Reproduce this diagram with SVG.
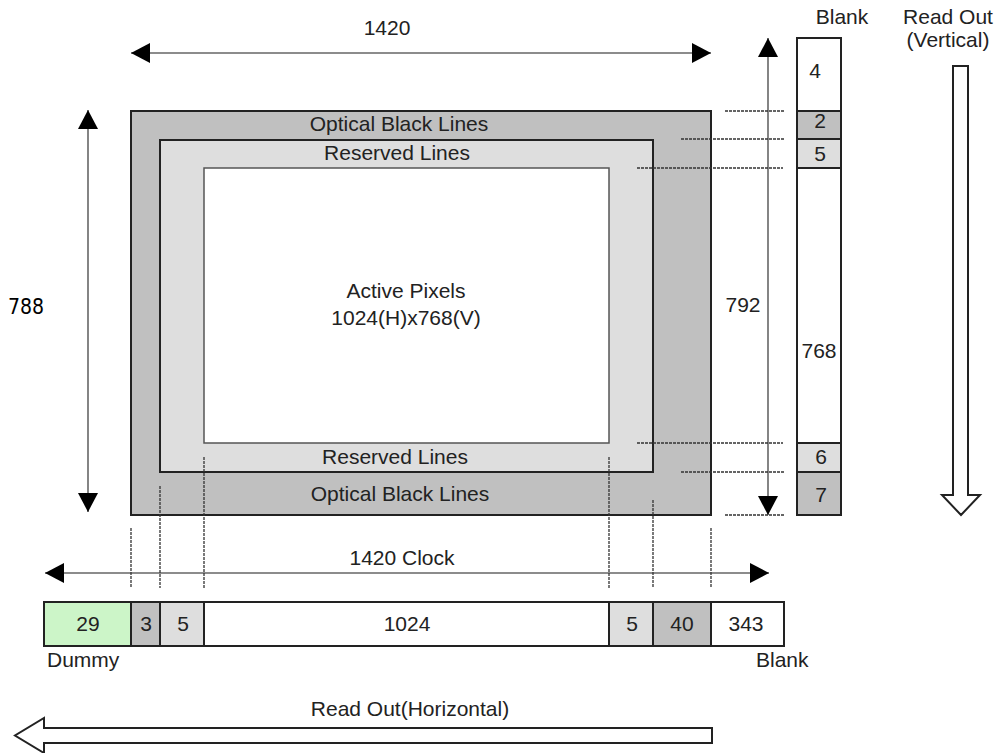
<svg xmlns="http://www.w3.org/2000/svg" width="999" height="753" viewBox="0 0 999 753">
<style>
  text { font-family: "Liberation Sans", Arial, sans-serif; font-size: 21px; fill: #222; }
  .c { text-anchor: middle; }
  .box { stroke: #222; stroke-width: 2; }
  .dark { fill: #c0c0c0; }
  .light { fill: #dedede; }
  .white { fill: #ffffff; }
  .green { fill: #ccf5c8; }
  .dim { stroke: #666; stroke-width: 1.6; fill: none; }
  .dash { stroke: #333; stroke-width: 1.3; stroke-dasharray: 3 1; fill: none; }
  .hollow { fill: #fff; stroke: #222; stroke-width: 2; }
</style>
<defs>
  <marker id="ah" markerUnits="userSpaceOnUse" markerWidth="20" markerHeight="22" viewBox="0 0 20 22" refX="19" refY="11" orient="auto-start-reverse">
    <path d="M0,1 L19,11 L0,21 z" fill="#000"/>
  </marker>
</defs>
<rect width="999" height="753" fill="#fff"/>

<g id="sensor">
  <rect x="131" y="111" width="580" height="404" class="box dark"/>
  <rect x="160" y="140" width="493" height="332" class="box light"/>
  <rect x="204" y="168" width="405" height="275" fill="#fff" stroke="#555" stroke-width="1.5"/>
  <text x="399" y="131" class="c">Optical Black Lines</text>
  <text x="397" y="160" class="c">Reserved Lines</text>
  <text x="406" y="298" class="c">Active Pixels</text>
  <text x="406" y="325" class="c">1024(H)x768(V)</text>
  <text x="395" y="464" class="c">Reserved Lines</text>
  <text x="400" y="501" class="c">Optical Black Lines</text>
</g>

<g id="vertical-column">
  <rect x="797" y="38" width="44" height="73" class="box white"/>
  <rect x="797" y="111" width="44" height="28" class="box dark"/>
  <rect x="797" y="139" width="44" height="29" class="box light"/>
  <rect x="797" y="168" width="44" height="275" class="box white"/>
  <rect x="797" y="443" width="44" height="29" class="box light"/>
  <rect x="797" y="472" width="44" height="43" class="box dark"/>
  <text x="815" y="78" class="c">4</text>
  <text x="820" y="128" class="c">2</text>
  <text x="820" y="161" class="c">5</text>
  <text x="819" y="358" class="c">768</text>
  <text x="821" y="464" class="c">6</text>
  <text x="821" y="502" class="c">7</text>
  <text x="842" y="24" class="c">Blank</text>
</g>

<g id="horizontal-bar">
  <rect x="44" y="602" width="87" height="44" class="box green"/>
  <rect x="131" y="602" width="29" height="44" class="box dark"/>
  <rect x="160" y="602" width="44" height="44" class="box light"/>
  <rect x="204" y="602" width="405" height="44" class="box white"/>
  <rect x="609" y="602" width="44" height="44" class="box light"/>
  <rect x="653" y="602" width="58" height="44" class="box dark"/>
  <rect x="711" y="602" width="73" height="44" class="box white"/>
  <text x="88" y="631" class="c">29</text>
  <text x="146" y="631" class="c">3</text>
  <text x="183" y="631" class="c">5</text>
  <text x="407" y="631" class="c">1024</text>
  <text x="632" y="631" class="c">5</text>
  <text x="682" y="631" class="c">40</text>
  <text x="746" y="631" class="c">343</text>
  <text x="47" y="667">Dummy</text>
  <text x="756" y="667">Blank</text>
</g>

<g id="readout-vertical">
  <polygon points="953,66 968,66 968,495 980,495 961,515 942,495 953,495" class="hollow"/>
  <text x="948" y="24" class="c">Read Out</text>
  <text x="948" y="47" class="c">(Vertical)</text>
</g>

<g id="readout-horizontal">
  <polygon points="712,728 712,743 44,743 44,753 15,735.5 44,718 44,728" class="hollow"/>
  <text x="410" y="716" class="c">Read Out(Horizontal)</text>
</g>

<g id="connectors">
  <line x1="131" y1="53" x2="711" y2="53" class="dim" marker-start="url(#ah)" marker-end="url(#ah)"/>
  <line x1="88" y1="110" x2="88" y2="512" class="dim" marker-start="url(#ah)" marker-end="url(#ah)"/>
  <line x1="768" y1="38" x2="768" y2="515" class="dim" marker-start="url(#ah)" marker-end="url(#ah)"/>
  <line x1="45" y1="573" x2="769" y2="573" class="dim" marker-start="url(#ah)" marker-end="url(#ah)"/>

  <line x1="725" y1="111" x2="784" y2="111" class="dash"/>
  <line x1="681" y1="139" x2="784" y2="139" class="dash"/>
  <line x1="637" y1="168" x2="783" y2="168" class="dash"/>
  <line x1="637" y1="443" x2="783" y2="443" class="dash"/>
  <line x1="681" y1="472" x2="784" y2="472" class="dash"/>
  <line x1="725" y1="515" x2="784" y2="515" class="dash"/>

  <line x1="131" y1="528" x2="131" y2="588" class="dash"/>
  <line x1="160" y1="486" x2="160" y2="588" class="dash"/>
  <line x1="204" y1="457" x2="204" y2="588" class="dash"/>
  <line x1="609" y1="457" x2="609" y2="588" class="dash"/>
  <line x1="653" y1="500" x2="653" y2="588" class="dash"/>
  <line x1="711" y1="528" x2="711" y2="588" class="dash"/>

  <text x="387" y="35" class="c">1420</text>
  <text x="402" y="565" class="c">1420 Clock</text>
  <text x="743" y="312" class="c">792</text>
  <text x="8" y="314" style="font-family:'DejaVu Sans Condensed','DejaVu Sans',sans-serif;font-size:21px;fill:#000">788</text>
</g>
</svg>
